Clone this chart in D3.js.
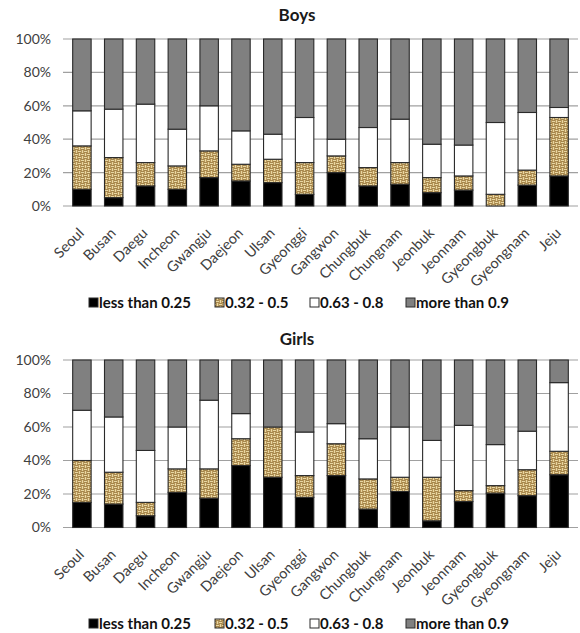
<!DOCTYPE html>
<html>
<head>
<meta charset="utf-8">
<script src="https://cdn.jsdelivr.net/npm/d3@7"></script>
<style>
  html, body { margin: 0; padding: 0; background: #fff; }
  svg { display: block; }
</style>
</head>
<body>
<svg id="chart" width="580" height="633"></svg>
<script>
// ---------- DATA ----------
const categories = ["Seoul","Busan","Daegu","Incheon","Gwangju","Daejeon","Ulsan","Gyeonggi",
  "Gangwon","Chungbuk","Chungnam","Jeonbuk","Jeonnam","Gyeongbuk","Gyeongnam","Jeju"];
const seriesNames = ["less than 0.25","0.32 - 0.5","0.63 - 0.8","more than 0.9"];
const yTicks = [0, 20, 40, 60, 80, 100];

// Boys (% of each region)
const boysLess025  = [10, 5, 12, 10, 17, 15, 14, 7, 20, 12, 13, 8, 9.5, 0, 12.5, 18];
const boys032to05  = [26, 24, 14, 14, 16, 10, 14, 19, 10, 11, 13, 9, 8.5, 7, 9, 35];
const boys063to08  = [21, 29, 35, 22, 27, 20, 15, 27, 10, 24, 26, 20, 18.5, 43, 34.5, 6];
const boysMore09   = [43, 42, 39, 54, 40, 55, 57, 47, 60, 53, 48, 63, 63.5, 50, 44, 41];

// Girls (% of each region)
const girlsLess025 = [15, 14, 7, 21, 17.5, 37, 30, 18, 31, 11, 21.5, 4, 15.5, 20.5, 19, 31.5];
const girls032to05 = [25, 19, 8, 14, 17.5, 16, 30, 13, 19, 18, 8.5, 26, 6.5, 4.5, 15.5, 14];
const girls063to08 = [30, 33, 31, 25, 41, 15, 0, 26, 12, 24, 30, 22, 39, 24.5, 23, 41];
const girlsMore09  = [30, 34, 54, 40, 24, 32, 40, 43, 38, 47, 40, 48, 39, 50.5, 42.5, 13.5];

// ---------- DRAW ----------
const svg = d3.select("#chart");
const FONT = "Lato, 'Open Sans', sans-serif";

// woven tan pattern
const defs = svg.append("defs");
const pat = defs.append("pattern").attr("id", "weave")
  .attr("patternUnits", "userSpaceOnUse").attr("width", 6).attr("height", 6);
pat.append("rect").attr("width", 6).attr("height", 6).attr("fill", "#e8d6a2");
[[0,0,3,1],[0,2,3,1],[3,3,3,1],[3,5,3,1]].forEach(r =>
  pat.append("rect").attr("x", r[0]).attr("y", r[1]).attr("width", r[2]).attr("height", r[3]).attr("fill", "#a5864c"));
[[3,0,1,3],[5,0,1,3],[0,3,1,3],[2,3,1,3]].forEach(r =>
  pat.append("rect").attr("x", r[0]).attr("y", r[1]).attr("width", r[2]).attr("height", r[3]).attr("fill", "#b8975a"));

const fills = ["#000000", "url(#weave)", "#ffffff", "#808080"];

const x = d3.scaleBand().domain(categories).range([66, 575]).paddingInner(0.42).paddingOuter(0.21);

function panel(title, seriesArrays, y0, y100, titleY, legendY) {
  const y = d3.scaleLinear().domain([0, 100]).range([y0, y100]);
  const g = svg.append("g");

  // gridlines
  g.selectAll("line.grid").data(yTicks).join("line")
    .attr("x1", 63).attr("x2", 578)
    .attr("y1", d => y(d)).attr("y2", d => y(d))
    .attr("stroke", "#a0a0a0").attr("stroke-width", 1.2);

  // y axis labels
  const yAxis = d3.axisLeft(y).tickValues(yTicks).tickFormat(d => d + "%").tickSize(0).tickPadding(0);
  const ya = g.append("g").attr("transform", "translate(51,0)").call(yAxis);
  ya.select(".domain").remove();
  ya.selectAll("text").attr("font-family", FONT).attr("font-size", 14).attr("fill", "#404040");

  // stacked data
  const rows = categories.map((c, i) => {
    const o = { cat: c };
    seriesNames.forEach((s, k) => o[s] = seriesArrays[k][i]);
    return o;
  });
  const stacked = d3.stack().keys(seriesNames)(rows);
  stacked.forEach((layer, k) => {
    g.append("g").selectAll("rect").data(layer).join("rect")
      .attr("x", d => x(d.data.cat))
      .attr("width", x.bandwidth())
      .attr("y", d => y(d[1]))
      .attr("height", d => Math.max(0, y(d[0]) - y(d[1])))
      .attr("fill", fills[k])
      .attr("stroke", "#2a2a2a").attr("stroke-width", 1.1);
  });

  // x labels
  g.selectAll("text.xl").data(categories).join("text")
    .attr("transform", d => `translate(${x(d) + x.bandwidth() / 2 + 3},${y0 + 28}) rotate(-45)`)
    .attr("text-anchor", "end")
    .attr("font-family", FONT).attr("font-size", 14.5).attr("fill", "#404040")
    .text(d => d);

  // title
  g.append("text").attr("x", 297).attr("y", titleY).attr("text-anchor", "middle")
    .attr("font-family", FONT).attr("font-weight", "bold").attr("font-size", 17).attr("fill", "#1a1a1a")
    .text(title);

  // legend
  const legX = [89, 215, 310, 406];
  const lg = g.append("g");
  seriesNames.forEach((s, k) => {
    lg.append("rect").attr("x", legX[k]).attr("y", legendY - 10).attr("width", 9).attr("height", 9)
      .attr("fill", fills[k]).attr("stroke", "#2a2a2a").attr("stroke-width", 1);
    lg.append("text").attr("x", legX[k] + 10).attr("y", legendY)
      .attr("font-family", FONT).attr("font-weight", "bold").attr("font-size", 15).attr("fill", "#111")
      .text(s);
  });
}

panel("Boys", [boysLess025, boys032to05, boys063to08, boysMore09], 206, 39, 21, 308);
panel("Girls", [girlsLess025, girls032to05, girls063to08, girlsMore09], 527.5, 360, 345, 629);
</script>
</body>
</html>
